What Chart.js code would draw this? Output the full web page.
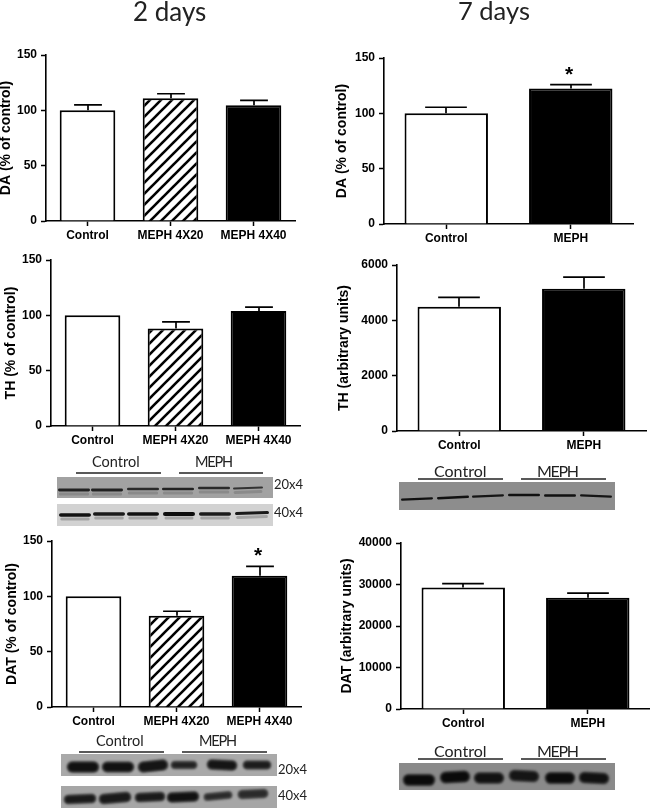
<!DOCTYPE html>
<html>
<head>
<meta charset="utf-8">
<title>MEPH 2 days / 7 days</title>
<script src="https://cdn.jsdelivr.net/npm/chart.js@4"></script>
<style>
  html, body { margin: 0; padding: 0; background: #fff; }
  body { position: relative; width: 650px; height: 808px; overflow: hidden; }
  canvas { position: absolute; }
  .lbl { position: absolute; font-family: Lato, sans-serif; color: #222; white-space: nowrap; line-height: 1; transform: translateY(-50%); }
</style>
</head>
<body>
<canvas id="blots" width="650" height="808" style="left:0;top:0"></canvas>
<script>
// Categories
const twoDayLabels = ["Control", "MEPH 4X20", "MEPH 4X40"];
const sevenDayLabels = ["Control", "MEPH"];

// Bar heights and the top of each error bar (null = no error bar drawn)
const da2Means = [100, 111, 104.5];
const da2Tops = [105, 115, 109];
const th2Means = [100, 88, 104];
const th2Tops = [null, 94, 107.5];
const dat2Means = [100, 82.5, 118.5];
const dat2Tops = [null, 86.5, 127];
const da7Means = [100, 122.5];
const da7Tops = [105.5, 126];
const th7Means = [4490, 5140];
const th7Tops = [4830, 5560];
const dat7Means = [29300, 26800];
const dat7Tops = [30200, 27900];

// Y axis ticks
const percentTicks = [0, 50, 100, 150];
const th7Ticks = [0, 2000, 4000, 6000];
const dat7Ticks = [0, 10000, 20000, 30000, 40000];

const INK = "#000";
const FONT = "'Liberation Sans', Arial, sans-serif";

// Diagonal stripes for the 4X20 bars
function hatchPattern() {
  const size = 11;
  const tile = document.createElement("canvas");
  tile.width = size;
  tile.height = size;
  const t = tile.getContext("2d");
  t.fillStyle = "#fff";
  t.fillRect(0, 0, size, size);
  t.strokeStyle = INK;
  t.lineWidth = 2.6;
  [[-size, size, size, -size], [0, size, size, 0], [0, 2 * size, 2 * size, 0]].forEach(l => {
    t.beginPath();
    t.moveTo(l[0], l[1]);
    t.lineTo(l[2], l[3]);
    t.stroke();
  });
  return document.getElementById("blots").getContext("2d").createPattern(tile, "repeat");
}

const hatch = hatchPattern();
const twoDayFills = ["#fff", hatch, INK];
const sevenDayFills = ["#fff", INK];

// Upper error bars and significance stars
const errorBars = {
  id: "errorBars",
  afterDatasetsDraw(chart, args, opts) {
    const ctx = chart.ctx;
    const y = chart.scales.y;
    const bars = chart.getDatasetMeta(0).data;
    ctx.save();
    ctx.strokeStyle = INK;
    ctx.lineWidth = 1.7;
    opts.tops.forEach((top, i) => {
      if (top === null) return;
      const x = Math.round(bars[i].x);
      const half = bars[i].width / 4;
      const py = y.getPixelForValue(top);
      ctx.beginPath();
      ctx.moveTo(x, y.getPixelForValue(opts.means[i]));
      ctx.lineTo(x, py);
      ctx.moveTo(x - half, py);
      ctx.lineTo(x + half, py);
      ctx.stroke();
      if (opts.star === i) {
        ctx.fillStyle = INK;
        ctx.font = "bold 21px " + FONT;
        ctx.textAlign = "center";
        ctx.textBaseline = "alphabetic";
        ctx.fillText("*", x - 2, py - 4);
      }
    });
    ctx.restore();
  }
};

function drawPanel(p) {
  const canvas = document.createElement("canvas");
  const yWidth = p.titleOffset + 8;
  const xHeight = 34;
  const headroom = 12;
  canvas.width = yWidth + 249 + 8;
  canvas.height = headroom + 166 + xHeight;
  canvas.style.left = (p.left - yWidth) + "px";
  canvas.style.top = (p.top - headroom) + "px";
  document.body.appendChild(canvas);

  new Chart(canvas.getContext("2d"), {
    type: "bar",
    data: {
      labels: p.labels,
      datasets: [{
        data: p.means,
        backgroundColor: p.fills,
        borderColor: INK,
        borderWidth: 2,
        borderSkipped: "bottom",
        barPercentage: 0.67,
        categoryPercentage: 1
      }]
    },
    options: {
      responsive: false,
      animation: false,
      layout: { padding: { top: headroom, right: 8, left: 0, bottom: 0 } },
      plugins: {
        legend: { display: false },
        tooltip: { enabled: false },
        errorBars: { tops: p.tops, means: p.means, star: p.star }
      },
      scales: {
        x: {
          afterFit: s => { s.height = xHeight; },
          grid: { offset: false, drawOnChartArea: false, tickLength: 5, tickColor: INK, tickWidth: 1.5 },
          border: { color: INK, width: 1.6 },
          ticks: { color: INK, font: { family: FONT, weight: "bold", size: 12 }, padding: 2, maxRotation: 0, autoSkip: false }
        },
        y: {
          min: 0,
          max: p.ticks[p.ticks.length - 1],
          afterBuildTicks: s => { s.ticks = p.ticks.map(v => ({ value: v })); },
          afterFit: s => { s.width = yWidth; },
          grid: { drawOnChartArea: false, tickLength: 5, tickColor: INK, tickWidth: 1.5 },
          border: { color: INK, width: 1.6 },
          title: { display: true, text: p.title, color: INK, padding: 0, font: { family: FONT, weight: "bold", size: 14 } },
          ticks: { color: INK, font: { family: FONT, weight: "bold", size: 12 }, padding: 4, callback: v => String(v) }
        }
      }
    },
    plugins: [errorBars]
  });
}

const panels = [
  { left: 46, top: 55, titleOffset: 40, labels: twoDayLabels, means: da2Means, tops: da2Tops, fills: twoDayFills, ticks: percentTicks, title: "DA (% of control)" },
  { left: 51, top: 260, titleOffset: 40, labels: twoDayLabels, means: th2Means, tops: th2Tops, fills: twoDayFills, ticks: percentTicks, title: "TH (% of control)" },
  { left: 52, top: 541, titleOffset: 40, labels: twoDayLabels, means: dat2Means, tops: dat2Tops, fills: twoDayFills, ticks: percentTicks, title: "DAT (% of control)", star: 2 },
  { left: 384, top: 58, titleOffset: 42, labels: sevenDayLabels, means: da7Means, tops: da7Tops, fills: sevenDayFills, ticks: percentTicks, title: "DA (% of control)", star: 1 },
  { left: 397, top: 265, titleOffset: 53, labels: sevenDayLabels, means: th7Means, tops: th7Tops, fills: sevenDayFills, ticks: th7Ticks, title: "TH (arbitrary units)" },
  { left: 401, top: 543, titleOffset: 54, labels: sevenDayLabels, means: dat7Means, tops: dat7Tops, fills: sevenDayFills, ticks: dat7Ticks, title: "DAT (arbitrary units)" }
];
panels.forEach(drawPanel);

// Western blot strips. Bands are [centre x, centre y, half width, half height, tilt, shade]
const blotStrips = [
  { x: 57, y: 477, w: 216, h: 21, bg: "#a2a2a2", blur: 0.7, smear: "#8a8a8a", bands: [
    [74, 490, 16, 1.4, 0, "#222"], [107, 490, 16, 1.4, 0, "#222"], [143, 489, 16, 1.3, 0, "#2a2a2a"],
    [178, 489, 16, 1.3, 0, "#222"], [214, 488, 16, 1.2, 0, "#2a2a2a"], [248, 488, 15, 1.1, -0.5, "#333"] ] },
  { x: 57, y: 504, w: 216, h: 22, bg: "#d2d2d2", blur: 0.6, smear: "#a4a4a4", bands: [
    [75, 515, 16, 1.8, 0, "#111"], [109, 514, 16, 1.7, 0, "#1a1a1a"], [143, 514, 16, 1.8, 0, "#111"],
    [179, 514, 16, 2, 0, "#0d0d0d"], [215, 514, 16, 1.7, 0, "#1a1a1a"], [252, 513, 17, 1.6, -0.5, "#1a1a1a"] ] },
  { x: 61, y: 754, w: 216, h: 22, bg: "#a9a9a9", blur: 1.1, halo: "#555", bands: [
    [83, 767, 15, 4.6, 0, "#111"], [118, 767, 15, 4.2, 0, "#111"], [153, 766, 14, 4.4, -1, "#151515"],
    [184, 765, 12, 2.8, 0, "#222"], [222, 765, 14, 4, 0.5, "#151515"], [257, 765, 13, 3.2, 0, "#1c1c1c"] ] },
  { x: 61, y: 786, w: 216, h: 22, bg: "#a6a6a6", blur: 1.1, halo: "#555", bands: [
    [80, 799, 15, 3.6, -0.5, "#1a1a1a"], [115, 798, 15, 4, -1, "#1a1a1a"], [150, 797, 14, 3.6, -0.5, "#1a1a1a"],
    [183, 797, 15, 4, -0.5, "#111"], [218, 796, 13, 2.6, -1, "#2a2a2a"], [253, 794, 14, 3.2, -0.5, "#2a2a2a"] ] },
  { x: 399, y: 482, w: 216, h: 28, bg: "#8d8d8d", blur: 0.6, bands: [
    [417, 499, 16, 1.1, -0.7, "#111"], [453, 497.5, 16, 1.2, -0.7, "#111"], [488, 496, 16, 1.1, -0.6, "#151515"],
    [524, 495, 16, 1.2, 0, "#111"], [560, 495.5, 16, 1.3, 0, "#111"], [596, 496, 16, 1.2, 0.6, "#151515"] ] },
  { x: 399, y: 763, w: 216, h: 27, bg: "#8a8a8a", blur: 1.2, halo: "#4a4a4a", bands: [
    [419, 780, 15, 4.8, 0, "#0a0a0a"], [455, 777, 14, 4.8, -0.5, "#0a0a0a"], [489, 778, 14, 4.4, 0, "#111"],
    [524, 776, 14, 4.4, 0.5, "#151515"], [560, 778, 14, 4.8, 0, "#0a0a0a"], [594, 778, 14, 4.4, 0.5, "#111"] ] }
];
// Rules above the blots, [x start, x end, y]
const blotRules = [
  [76, 161, 473], [179, 263, 473],
  [79, 164, 752], [182, 267, 752],
  [418, 503, 479], [521, 606, 479],
  [418, 503, 759], [521, 606, 759]
];

function strokeBand(ctx, b, color, width) {
  ctx.strokeStyle = color;
  ctx.lineWidth = width;
  ctx.beginPath();
  ctx.moveTo(b[0] - b[2] + b[3], b[1] - b[4]);
  ctx.lineTo(b[0] + b[2] - b[3], b[1] + b[4]);
  ctx.stroke();
}

function drawBlots() {
  const ctx = document.getElementById("blots").getContext("2d");
  blotStrips.forEach(s => {
    ctx.save();
    ctx.beginPath();
    ctx.rect(s.x, s.y, s.w, s.h);
    ctx.clip();
    ctx.fillStyle = s.bg;
    ctx.fillRect(s.x, s.y, s.w, s.h);
    ctx.lineCap = "round";
    ctx.filter = "blur(" + s.blur + "px)";
    s.bands.forEach(b => {
      if (s.smear) {
        strokeBand(ctx, [b[0], b[1] + 4, b[2] - 1, b[3], b[4], b[5]], s.smear, 3);
      }
      if (s.halo) {
        strokeBand(ctx, b, s.halo, b[3] * 2 + 3);
      }
      strokeBand(ctx, b, b[5], b[3] * 2);
    });
    ctx.restore();
  });
  ctx.strokeStyle = "#222";
  ctx.lineWidth = 1.3;
  blotRules.forEach(r => {
    ctx.beginPath();
    ctx.moveTo(r[0], r[2]);
    ctx.lineTo(r[1], r[2]);
    ctx.stroke();
  });
}
drawBlots();

// Text set in the slide's own font, [text, x, centre y, size, letter spacing]
const slideText = [
  ["2 days", 133, 11, 26, 0], ["7 days", 458, 11, 25.5, 0],
  ["Control", 92, 462, 14.5, 0], ["MEPH", 195, 462, 14.5, -1.2], ["20x4", 274, 484, 13, 0], ["40x4", 274, 512, 13, 0],
  ["Control", 96, 741, 14.5, 0], ["MEPH", 199, 741, 14.5, -1.2], ["20x4", 278, 769, 13, 0], ["40x4", 278, 795, 13, 0],
  ["Control", 434, 471, 16, 0], ["MEPH", 537, 471, 16, -1.3],
  ["Control", 434, 751, 16, 0], ["MEPH", 537, 751, 16, -1.3]
];
slideText.forEach(t => {
  const el = document.createElement("div");
  el.className = "lbl";
  el.textContent = t[0];
  el.style.left = t[1] + "px";
  el.style.top = t[2] + "px";
  el.style.fontSize = t[3] + "px";
  el.style.letterSpacing = t[4] + "px";
  document.body.appendChild(el);
});
</script>
</body>
</html>
